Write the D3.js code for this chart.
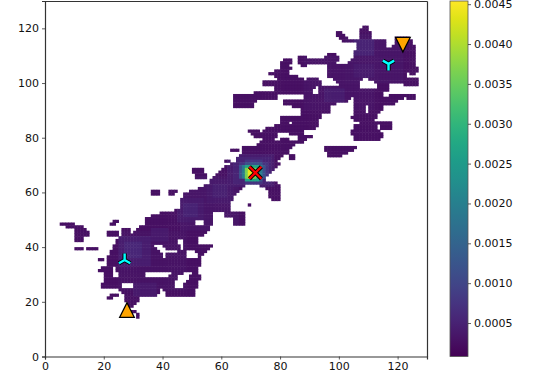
<!DOCTYPE html>
<html>
<head>
<meta charset="utf-8">
<script src="https://cdn.jsdelivr.net/npm/d3@7"></script>
<style>
    body { margin: 0; background: #fff; }
    svg text { font-family: "DejaVu Sans"; }
</style>
</head>
<body>
<div id="chart"></div>
<script>
// occupied cells per row: [row, [from, to, from, to, ...]]
const maskRows = [
    [120, [108,109]],
    [119, [107,109]],
    [118, [99,100,107,110]],
    [117, [99,101,107,110]],
    [116, [100,102,107,110,119,123]],
    [115, [101,115,119,124]],
    [114, [106,115,119,124]],
    [113, [106,115,118,125]],
    [112, [106,125]],
    [111, [105,125]],
    [110, [96,98,105,125]],
    [109, [86,88,95,99,105,125]],
    [108, [81,83,86,99,104,125]],
    [107, [80,83,86,98,103,125]],
    [106, [80,82,87,88,96,125]],
    [105, [80,83,96,126]],
    [104, [78,82,96,126]],
    [103, [76,82,96,122,124,125]],
    [102, [78,85,96,122]],
    [101, [79,87,89,92,98,107,110,126]],
    [100, [74,88,89,93,99,106,112,126]],
    [99, [74,88,89,93,100,106,113,116,122,126]],
    [98, [78,88,89,91,93,106,113,116]],
    [97, [78,88,89,90,93,116]],
    [96, [71,88,89,90,93,114]],
    [95, [64,78,88,114,117,125]],
    [94, [64,78,88,103,105,121,123,125]],
    [93, [64,71,81,102,105,119]],
    [92, [64,70,81,98,105,118]],
    [91, [64,70,84,96,105,108,110,114]],
    [90, [87,96,105,108,110,114]],
    [89, [87,96,105,108,110,113]],
    [88, [87,93,105,109,110,112]],
    [87, [80,93,104,109,110,112]],
    [86, [80,92,105,111]],
    [85, [80,82,84,92,107,117]],
    [84, [78,92,105,112,114,117]],
    [83, [75,91,105,112,114,117]],
    [82, [69,72,74,87,104,113]],
    [81, [70,78,83,87,104,114]],
    [80, [71,78,86,90,105,114]],
    [79, [74,77,80,82,86,88,105,113]],
    [78, [73,87]],
    [77, [72,84]],
    [76, [67,83,95,105]],
    [75, [63,65,67,82,95,104]],
    [74, [67,82,96,102]],
    [73, [66,80,83,84,96,100]],
    [72, [65,79,83,84]],
    [71, [61,62,65,78]],
    [70, [63,79]],
    [69, [61,78]],
    [68, [50,53,60,77]],
    [67, [50,53,59,76]],
    [66, [51,54,58,75]],
    [65, [51,54,57,74]],
    [64, [56,74]],
    [63, [56,71,72,78]],
    [62, [54,67,73,79]],
    [61, [52,66,75,79]],
    [60, [36,38,42,44,49,65,76,79]],
    [59, [36,38,42,43,47,64,76,79]],
    [58, [47,63,76,79]],
    [57, [46,63,77,79]],
    [56, [46,62]],
    [55, [46,62,69,69]],
    [54, [46,62]],
    [53, [44,62]],
    [52, [39,56,61,67]],
    [51, [36,56,61,67]],
    [50, [34,56,64,67]],
    [49, [23,24,34,50,54,56,64,67]],
    [48, [5,9,22,23,34,50,54,56,64,67]],
    [47, [7,10,11,12,32,55]],
    [46, [10,13,26,28,31,55]],
    [45, [10,14,21,24,26,28,30,54]],
    [44, [10,14,21,24,26,53]],
    [43, [10,12,25,51]],
    [42, [10,12,24,44,47,51]],
    [41, [24,44,47,51]],
    [40, [23,36,40,45,47,56]],
    [39, [10,12,14,17,23,37,41,45,47,55]],
    [38, [22,38,45,47,51,54]],
    [37, [22,39,41,47,52,53]],
    [36, [21,39,41,47,52,52]],
    [35, [18,19,21,52]],
    [34, [21,52]],
    [33, [21,52]],
    [32, [19,22,24,51]],
    [31, [18,22,24,51]],
    [30, [20,22,25,33,43,46,50,51]],
    [29, [20,22,25,33,42,44,49,52]],
    [28, [20,44,49,52]],
    [27, [20,43,48,51]],
    [26, [19,25,30,43,47,51]],
    [25, [19,25,30,43,47,51]],
    [24, [25,38,40,50]],
    [23, [26,38,41,50]],
    [22, [22,24,27,37,41,50]],
    [21, [21,22,27,31]],
    [20, [27,31]],
    [19, [28,30]],
    [18, [28,29]],
    [16, [29,30]],
    [15, [31,31]],
    [14, [31,31]]
];

const baseValue = 0.00026;

// brighter blocks, later ones on top: [x0, x1, y0, y1, value]
const glowBlocks = [
    [25,48,24,46,0.0003],
    [46,66,46,66,0.00033],
    [88,112,90,110,0.00031],
    [102,122,100,118,0.00033],
    [30,38,22,27,0.00038],
    [36,42,42,47,0.00038],
    [25,36,33,44,0.00043],
    [27,33,36,42,0.00056],
    [45,54,49,58,0.0004],
    [47,52,51,56,0.0005],
    [55,64,56,65,0.00038],
    [57,62,58,63,0.00048],
    [95,102,93,98,0.00044],
    [105,112,102,107,0.0004],
    [105,112,110,116,0.0005],
    [62,78,62,74,0.00042],
    [64,77,63,73,0.00052],
    [66,76,65,71,0.00075],
    [68,74,63,72,0.00075],
    [66,75,65,70,0.0012],
    [68,74,64,71,0.0012],
    [67,74,65,70,0.0019],
    [68,73,64,70,0.0027],
    [68,72,65,69,0.0036],
    [69,71,65,69,0.0044]
];

const xTicks = [0,20,40,60,80,100,120];
const yTicks = [0,20,40,60,80,100,120];
const colorTicks = [0.0005,0.0010,0.0015,0.0020,0.0025,0.0030,0.0035,0.0040,0.0045];
const colorMin = 0.00008, colorMax = 0.00454;

const triangleUp = [[27.9,17]];
const triangleDown = [[121.8,114]];
const spokeUp = [[27.1,35.3]];
const spokeDown = [[116.9,107]];
const crossMark = [[71.6,67.2]];

var margin = { top: 1, left: 45 },
    width = 382,
    height = 355.5;

var x = d3.scaleLinear().domain([0, 130]).range([margin.left, margin.left + width]);
var y = d3.scaleLinear().domain([0, 130]).range([margin.top + height, margin.top]);
var color = d3.scaleSequential([colorMin, colorMax], d3.interpolateViridis);
var yBar = d3.scaleLinear().domain([colorMin, colorMax]).range([margin.top + height, margin.top]);

var svg = d3.select("#chart").append("svg").attr("width", 538).attr("height", 385);

// value of one occupied cell
function cellValue(cx, cy) {
    let v = baseValue;
    glowBlocks.forEach((b) => {
        if (cx >= b[0] && cx < b[1] && cy >= b[2] && cy < b[3]) v = b[4];
    });
    return v;
}

const cells = [];
maskRows.forEach(([row, spans]) => {
    for (let i = 0; i < spans.length; i += 2) {
        for (let c = spans[i]; c <= spans[i + 1]; c++) {
            cells.push({ x: c, y: row, v: cellValue(c, row) });
        }
    }
});

// a bit of overlap so the cell borders do not show as a white lattice
svg.append("g").selectAll("rect").data(cells).join("rect")
    .attr("x", (d) => x(d.x))
    .attr("y", (d) => y(d.y + 1))
    .attr("width", x(1) - x(0) + 0.5)
    .attr("height", y(0) - y(1) + 0.5)
    .attr("fill", (d) => color(d.v));

// axes
function styleAxis(g) {
    g.selectAll("path").attr("stroke", "#333").attr("stroke-width", 1.2);
    g.selectAll("line").attr("stroke", "#333").attr("stroke-width", 0.8);
    g.selectAll("text").attr("fill", "#111").style("font-size", "11px").style("font-family", "DejaVu Sans");
}

svg.append("g").attr("transform", `translate(0,${margin.top + height})`)
    .call(d3.axisBottom(x).tickValues(xTicks).tickSize(3).tickPadding(3).tickFormat(d3.format("d")))
    .call(styleAxis);
svg.append("g").attr("transform", `translate(${margin.left},0)`)
    .call(d3.axisLeft(y).tickValues(yTicks).tickSize(3).tickPadding(3).tickFormat(d3.format("d")))
    .call(styleAxis);
svg.append("g").attr("transform", `translate(${margin.left + width},0)`)
    .call(d3.axisRight(y).tickValues([]).tickSize(0))
    .call(styleAxis);
svg.append("g").attr("transform", `translate(0,${margin.top})`)
    .call(d3.axisTop(x).tickValues([]).tickSize(0))
    .call(styleAxis);

// colour bar
const defs = svg.append("defs");
const grad = defs.append("linearGradient").attr("id", "viridisBar")
    .attr("x1", 0).attr("x2", 0).attr("y1", 1).attr("y2", 0);
d3.range(0, 1.001, 0.05).forEach((t) => {
    grad.append("stop").attr("offset", t).attr("stop-color", d3.interpolateViridis(t));
});
svg.append("rect")
    .attr("x", 450).attr("y", margin.top).attr("width", 18).attr("height", height)
    .attr("fill", "url(#viridisBar)")
    .attr("stroke", "#555").attr("stroke-width", 0.8);
svg.append("g").attr("transform", "translate(468,0)")
    .call(d3.axisRight(yBar).tickValues(colorTicks).tickSize(3).tickPadding(3).tickFormat(d3.format(".4f")))
    .call(styleAxis)
    .call((g) => g.select("path").remove());

// markers
const triSize = 7.3;
function triPath(dir) {
    return `M0,${-dir * triSize}L${triSize},${dir * triSize}L${-triSize},${dir * triSize}Z`;
}
svg.append("g").selectAll("path").data(triangleUp).join("path")
    .attr("d", triPath(1))
    .attr("transform", (d) => `translate(${x(d[0])},${y(d[1])})`)
    .attr("fill", "orange").attr("stroke", "#000").attr("stroke-width", 1.3);
svg.append("g").selectAll("path").data(triangleDown).join("path")
    .attr("d", triPath(-1))
    .attr("transform", (d) => `translate(${x(d[0])},${y(d[1])})`)
    .attr("fill", "orange").attr("stroke", "#000").attr("stroke-width", 1.3);

const spoke = 6.5;
function spokePath(dir) {
    return `M0,0L0,${-dir * spoke}M0,0L${spoke * 0.87},${dir * spoke * 0.5}M0,0L${-spoke * 0.87},${dir * spoke * 0.5}`;
}
function outlined(data, path, colour, w) {
    [["#000", w + 1.8], [colour, w]].forEach(([stroke, sw]) => {
        svg.append("g").selectAll("path").data(data).join("path")
            .attr("d", path)
            .attr("transform", (d) => `translate(${x(d[0])},${y(d[1])})`)
            .attr("fill", "none").attr("stroke", stroke).attr("stroke-width", sw);
    });
}
outlined(spokeUp, spokePath(1), "cyan", 2.4);
outlined(spokeDown, spokePath(-1), "cyan", 2.4);
outlined(crossMark, "M-6,-6L6,6M-6,6L6,-6", "red", 2.4);
</script>
</body>
</html>
